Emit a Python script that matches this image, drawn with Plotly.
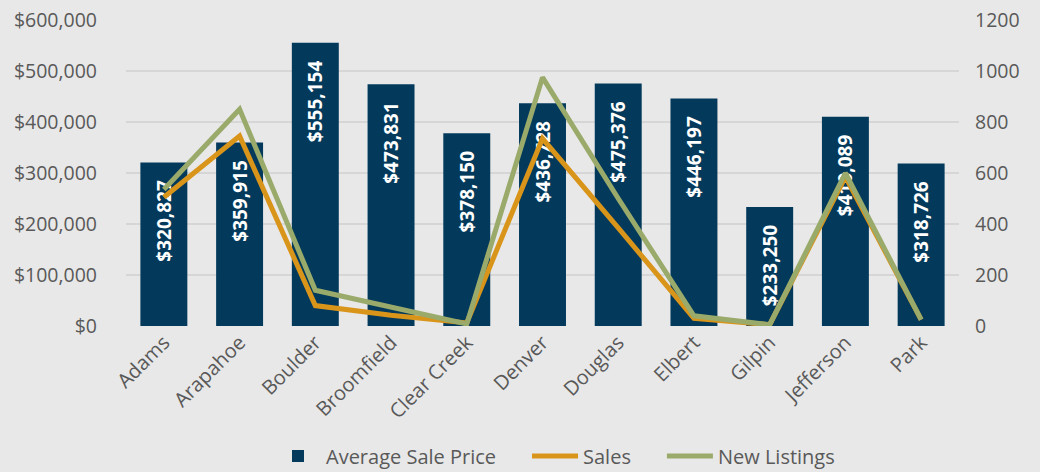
import plotly.graph_objects as go

# Counties
counties = ["Adams", "Arapahoe", "Boulder", "Broomfield", "Clear Creek", "Denver",
            "Douglas", "Elbert", "Gilpin", "Jefferson", "Park"]

# Average sale price per county ($)
avg_price = [320827, 359915, 555154, 473831, 378150, 436728,
             475376, 446197, 233250, 410089, 318726]

# Counts (right axis)
sales = [505, 745, 80, 42, 12, 735, 385, 30, 5, 585, 25]
new_listings = [535, 850, 140, 75, 8, 975, 500, 40, 5, 600, 25]

left_ticks = [0, 100000, 200000, 300000, 400000, 500000, 600000]
left_tick_text = ["$0", "$100,000", "$200,000", "$300,000", "$400,000", "$500,000", "$600,000"]
right_ticks = [0, 200, 400, 600, 800, 1000, 1200]

NAVY = "#033A5C"
ORANGE = "#D9941A"
GREEN = "#9AAA6B"
GREY_TXT = "#595959"
FONT = "Open Sans"
PAD = "\u00a0" * 5   # extra room after a legend entry

fig = go.Figure()

fig.add_trace(go.Bar(
    x=counties, y=avg_price, name="Average Sale Price" + PAD,
    marker=dict(color=NAVY, line=dict(width=0)),
    width=0.62,
    text=["$" + f"{v:,}" + "\u00a0\u00a0\u00a0" for v in avg_price],
    textposition="inside", insidetextanchor="end", textangle=-90,
    constraintext="none",
    textfont=dict(color="white", size=19, family=FONT, weight="bold"),
    yaxis="y",
))

fig.add_trace(go.Scatter(
    x=counties, y=sales, name="Sales" + PAD, mode="lines",
    line=dict(color=ORANGE, width=5),
    yaxis="y2",
))

fig.add_trace(go.Scatter(
    x=counties, y=new_listings, name="New Listings", mode="lines",
    line=dict(color=GREEN, width=5),
    yaxis="y2",
))

fig.update_layout(
    width=1040, height=472,
    margin=dict(l=126, r=81, t=20, b=146),
    paper_bgcolor="#E8E8E8", plot_bgcolor="#E8E8E8",
    font=dict(family=FONT, size=19, color=GREY_TXT),
    showlegend=True,
    legend=dict(orientation="h", x=0.515, xanchor="center",
                yref="container", y=0.034, yanchor="middle",
                font=dict(size=20, color=GREY_TXT), traceorder="normal",
                itemwidth=46, bgcolor="rgba(0,0,0,0)"),
    xaxis=dict(tickangle=-45, showgrid=False, showline=False, zeroline=False,
               automargin=False,
               range=[-0.5, 10.5], ticks="", tickfont=dict(size=20, color=GREY_TXT)),
    yaxis=dict(range=[0, 600000], tickvals=left_ticks, ticktext=left_tick_text,
               showgrid=True, gridcolor="#D6D6D6", gridwidth=2, zeroline=False,
               automargin=False,
               ticklabelstandoff=28, tickfont=dict(size=19.5, color=GREY_TXT)),
    yaxis2=dict(range=[0, 1200], tickvals=right_ticks, overlaying="y", side="right",
                showgrid=False, zeroline=False, automargin=False, ticklabelstandoff=15,
                tickfont=dict(size=19.5, color=GREY_TXT)),
)

# page body has a default 8px margin; drop it so the figure sits at the corner
fig.write_html("out.html", config={"displayModeBar": False},
               post_script="document.body.style.margin='0';")
